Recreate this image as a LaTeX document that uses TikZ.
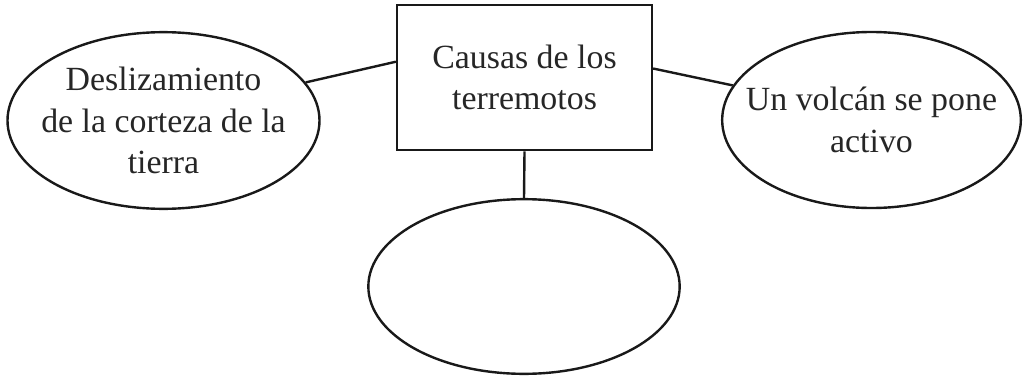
\documentclass[tikz,border=0pt]{standalone}
\usepackage{fontspec}
\setmainfont{Liberation Serif}
\usepackage{tikz}
\usetikzlibrary{shapes.geometric, positioning}

\begin{document}
\begin{tikzpicture}[
        x=0.75pt, y=0.75pt,
        box/.style={draw=black!90, rectangle, line width=1.9pt, inner sep=0pt, minimum width=191pt, minimum height=109pt},
        bubble/.style={draw=black!90, ellipse, line width=1.8pt, inner sep=0pt},
        caption/.style={align=center, inner sep=0pt, text=black!85, font=\fontsize{25.4}{31}\selectfont},
        link/.style={-, line width=1.8pt, draw=black!90},
        ]
      \useasboundingbox (0,0) rectangle (1023,376);

      \node [box] (cause) at (524.5,298.5) {};
      \node [caption] (cause-text) at (cause) {Causas de los\\terremotos};
      \node [bubble, minimum width=234pt, minimum height=132.5pt] (slip) at (163.5,255.5) {};
      \node [caption] (slip-text) at (slip) {Deslizamiento\\de la corteza de la\\tierra};
      \node [bubble, minimum width=224pt, minimum height=132pt] (volcano) at (871.5,256) {};
      \node [caption] (volcano-text) at (volcano) {Un volcán se pone\\activo};
      \node [bubble, minimum width=233.5pt, minimum height=131pt] (blank) at (524,89.5) {};

      \draw[link] (cause.173.5) -- (slip.15.1);
      \draw[link] (cause.4.3) -- (volcano.166);
      \draw[link] (cause.south) -- (blank.north);
    \end{tikzpicture}
\end{document}
